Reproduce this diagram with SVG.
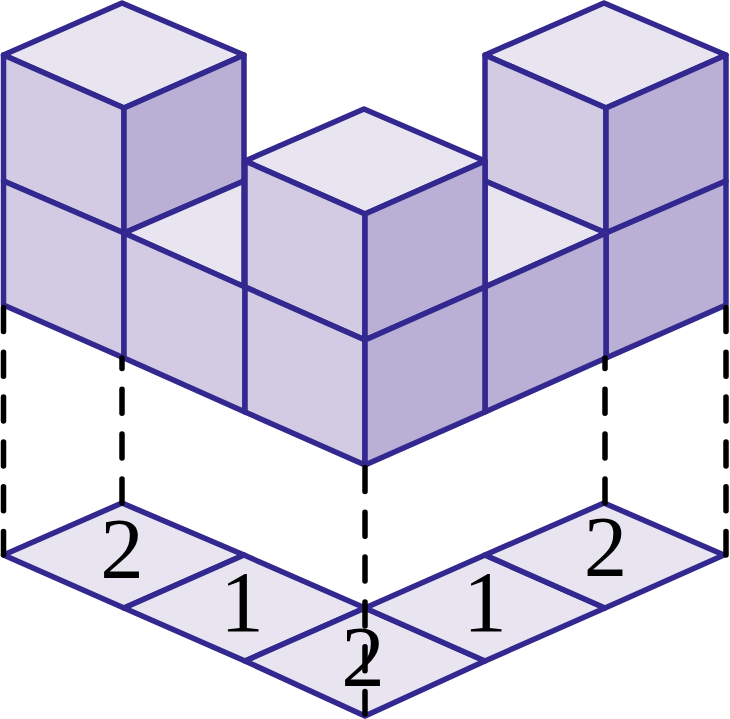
<svg xmlns="http://www.w3.org/2000/svg" width="730" height="719" viewBox="0 0 730 719">
<style>
.t{fill:#e8e5f1}.l{fill:#d2cbe3}.r{fill:#baafd4}
polygon{stroke:#32288f;stroke-width:5.500;stroke-linejoin:round}
.d{fill:none;stroke:#000;stroke-width:5.500;stroke-linecap:round;stroke-dasharray:24 20.800}
text{font-family:"Liberation Serif",serif;font-size:87px;fill:#000;text-anchor:middle}
</style>
<rect width="730" height="719" fill="#fff"/>
<g id="base">
<polygon class="t" points="3.500,555 122,503 244,555 124,608"/>
<polygon class="t" points="124,608 244,555 365,608 245,661"/>
<polygon class="t" points="245,661 365,608 485,661 365,716"/>
<polygon class="t" points="365,608 485,555 605,608 485,661"/>
<polygon class="t" points="485,555 604,503 724,555 605,608"/>
</g>
<g id="left-stack">
<polygon class="t" points="3.500,55 122,3 244,55 124,108"/>
<polygon class="l" points="3.500,55 124,108 124,233 3.500,181"/>
<polygon class="r" points="124,108 244,55 244,181 124,233"/>
<polygon class="l" points="3.500,181 124,233 124,358 3.500,305"/>
<polygon class="t" points="124,233 244,181 244,287"/>
<polygon class="l" points="124,233 245,287 245,412 124,358"/>
</g>
<g id="right-stack">
<polygon class="t" points="485,55 604,3 726,55 606,108"/>
<polygon class="l" points="485,55 606,108 606,233 485,181"/>
<polygon class="r" points="606,108 726,55 726,181 606,233"/>
<polygon class="r" points="606,233 726,181 726,305 606,358"/>
<polygon class="t" points="485,181 606,233 485,287"/>
<polygon class="r" points="485,287 606,233 606,358 485,412"/>
</g>
<g id="middle-stack">
<polygon class="t" points="245,161 364,109 485,161 365,214"/>
<polygon class="l" points="245,161 365,214 365,340 245,287"/>
<polygon class="r" points="365,214 485,161 485,287 365,340"/>
<polygon class="l" points="245,287 365,340 365,465 245,412"/>
<polygon class="r" points="365,340 485,287 485,412 365,465"/>
</g>
<g id="connectors">
<path class="d" d="M3.500 307.500V555"/>
<path class="d" stroke-dashoffset="13.500" d="M122 358V503"/>
<path class="d" d="M365 467.500V714"/>
<path class="d" stroke-dashoffset="13.500" d="M605 358V503"/>
<path class="d" d="M726 307.500V555"/>
</g>
<g id="labels">
<text x="122" y="578">2</text>
<text x="242" y="631">1</text>
<text x="363" y="686">2</text>
<text x="485" y="631">1</text>
<text x="605.500" y="576">2</text>
</g>
</svg>
